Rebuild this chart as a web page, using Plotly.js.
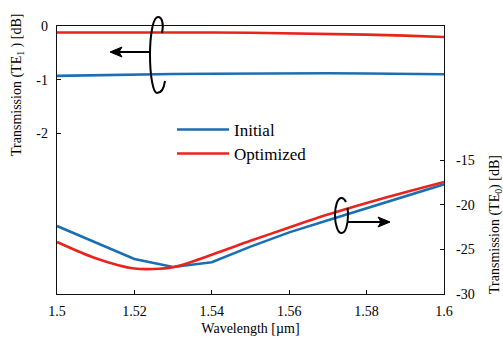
<!DOCTYPE html>
<html>
<head>
<meta charset="utf-8">
<script src="https://cdn.plot.ly/plotly-3.0.1.min.js"></script>
<style>
  html, body { margin: 0; padding: 0; background: #fff; }
  #chart { width: 503px; height: 344px; }
</style>
</head>
<body>
<div id="chart"></div>
<script>
// Wavelength samples [µm]
const wavelength = [1.50, 1.51, 1.52, 1.53, 1.54, 1.55, 1.56, 1.57, 1.58, 1.59, 1.60];

// TE1 transmission [dB] (left axis)
const te1Initial   = [-0.93, -0.915, -0.905, -0.895, -0.89, -0.885, -0.882, -0.882, -0.885, -0.89, -0.90];
const te1Optimized = [-0.12, -0.118, -0.117, -0.118, -0.12, -0.125, -0.133, -0.145, -0.16, -0.18, -0.205];

// TE0 transmission [dB] (right axis)
const te0Initial   = [-22.39, -24.2, -26.08, -26.98, -26.45, -24.7, -23.1, -21.75, -20.4, -19.0, -17.72];
const te0Optimized = [-24.18, -26.0, -27.15, -27.0, -25.6, -24.05, -22.55, -21.1, -19.8, -18.6, -17.45];

// Axis ticks
const xTicks = [1.50, 1.52, 1.54, 1.56, 1.58, 1.60];
const xTickText = ['1.5', '1.52', '1.54', '1.56', '1.58', '1.6'];
const y1Ticks = [0, -1, -2];
const y1TickText = ['0', '-1', '-2'];
const y2Ticks = [-15, -20, -25, -30];
const y2TickText = ['-15', '-20', '-25', '-30'];

const seriesNames = ['Initial', 'Optimized'];
const BLUE = '#1a6fb4';
const RED = '#e8241d';
const FONT = 'Liberation Serif';

const W = 503, H = 344;
const M = { l: 57, r: 59, t: 26, b: 50 };
const X_RANGE = [1.5, 1.6];
const Y1_RANGE = [-5, 0];
const Y2_RANGE = [-30, 0];

// Screen-pixel point -> paper fraction, for the rotation-arrow decorations
const plotW = W - M.l - M.r, plotH = H - M.t - M.b;
const px2p = px => (px - M.l) / plotW;
const py2p = py => (H - M.b - py) / plotH;
function pathFrom(cmds) {
  return cmds.map(c => {
    const op = c[0];
    const pts = [];
    for (let i = 1; i < c.length; i += 2) pts.push(px2p(c[i]) + ',' + py2p(c[i + 1]));
    return op + pts.join(' ');
  }).join(' ');
}

const traces = [
  { x: wavelength, y: te1Initial, yaxis: 'y', name: seriesNames[0], legend: 'legend',
    mode: 'lines', line: { color: BLUE, width: 2.6 } },
  { x: wavelength, y: te1Optimized, yaxis: 'y', name: seriesNames[1], legend: 'legend2',
    mode: 'lines', line: { color: RED, width: 2.6 } },
  { x: wavelength, y: te0Initial, yaxis: 'y2', name: seriesNames[0], showlegend: false,
    mode: 'lines', line: { color: BLUE, width: 2.6 } },
  { x: wavelength, y: te0Optimized, yaxis: 'y2', name: seriesNames[1], showlegend: false,
    mode: 'lines', line: { color: RED, width: 2.6, shape: 'spline', smoothing: 0.8 } }
];

const deco = { color: '#000', width: 2 };
const shapes = [
  // rotation loop pointing at the left axis
  { type: 'path', xref: 'paper', yref: 'paper', line: deco,
    path: pathFrom([['M', 162, 33], ['C', 164, 24, 162, 17, 158, 17], ['C', 153, 17, 150, 35, 150, 55],
                    ['C', 150, 75, 153, 93, 157, 93], ['C', 161, 93, 164, 88, 165, 81]]) },
  { type: 'line', xref: 'paper', yref: 'paper', line: deco,
    x0: px2p(150), y0: py2p(52), x1: px2p(119), y1: py2p(52) },
  { type: 'path', xref: 'paper', yref: 'paper', line: { color: '#000', width: 1 }, fillcolor: '#000',
    path: pathFrom([['M', 110, 52], ['L', 122, 47], ['L', 119, 52], ['L', 122, 57], ['Z']]) },
  // rotation loop pointing at the right axis
  { type: 'path', xref: 'paper', yref: 'paper', line: deco,
    path: pathFrom([['M', 346, 202], ['C', 344.5, 199, 343, 198, 341.5, 198], ['C', 337.5, 198, 335, 206, 335, 215.5],
                    ['C', 335, 225, 338, 233, 341.5, 233], ['C', 345.5, 233, 348, 225, 348, 215],
                    ['C', 348, 212, 347.8, 210, 347.5, 208]]) },
  { type: 'line', xref: 'paper', yref: 'paper', line: deco,
    x0: px2p(348), y0: py2p(222), x1: px2p(381), y1: py2p(222) },
  { type: 'path', xref: 'paper', yref: 'paper', line: { color: '#000', width: 1 }, fillcolor: '#000',
    path: pathFrom([['M', 390, 222], ['L', 378, 217], ['L', 381, 222], ['L', 378, 227], ['Z']]) }
];

const axisCommon = {
  showgrid: false, zeroline: false, showline: true, linecolor: '#111', linewidth: 1.3,
  ticks: 'inside', ticklen: 4, tickwidth: 1, tickcolor: '#111',
  tickfont: { family: FONT, size: 14, color: '#000' }
};

const legendCommon = {
  xanchor: 'left', yanchor: 'middle',
  bgcolor: 'rgba(0,0,0,0)', borderwidth: 0, itemwidth: 52,
  font: { family: FONT, size: 17, color: '#000' }
};

const layout = {
  width: W, height: H,
  margin: M,
  paper_bgcolor: '#fff', plot_bgcolor: '#fff',
  font: { family: FONT, color: '#000' },
  showlegend: true,
  legend: Object.assign({}, legendCommon, { x: px2p(172), y: py2p(130) }),
  legend2: Object.assign({}, legendCommon, { x: px2p(172), y: py2p(154) }),
  xaxis: Object.assign({}, axisCommon, {
    range: X_RANGE, tickvals: xTicks, ticktext: xTickText, mirror: true, ticklabelstandoff: 4,
    title: { text: 'Wavelength [µm]', font: { family: FONT, size: 14, color: '#000' }, standoff: 5 }
  }),
  yaxis: Object.assign({}, axisCommon, {
    range: Y1_RANGE, tickvals: y1Ticks, ticktext: y1TickText, ticklabelstandoff: 5
  }),
  yaxis2: Object.assign({}, axisCommon, {
    range: Y2_RANGE, tickvals: y2Ticks, ticktext: y2TickText, ticklabelstandoff: 8,
    overlaying: 'y', side: 'right'
  }),
  shapes: shapes,
  annotations: [
    { text: 'Transmission (TE<sub>1</sub> ) [dB]', xref: 'paper', yref: 'paper',
      x: px2p(17), y: py2p(85), textangle: -90, showarrow: false,
      xanchor: 'center', yanchor: 'middle', font: { family: FONT, size: 14, color: '#000' } },
    { text: 'Transmission (TE<sub>0</sub>) [dB]', xref: 'paper', yref: 'paper',
      x: px2p(495), y: py2p(225), textangle: -90, showarrow: false,
      xanchor: 'center', yanchor: 'middle', font: { family: FONT, size: 14, color: '#000' } }
  ]
};

Plotly.newPlot('chart', traces, layout, { displayModeBar: false, staticPlot: true });
</script>
</body>
</html>
